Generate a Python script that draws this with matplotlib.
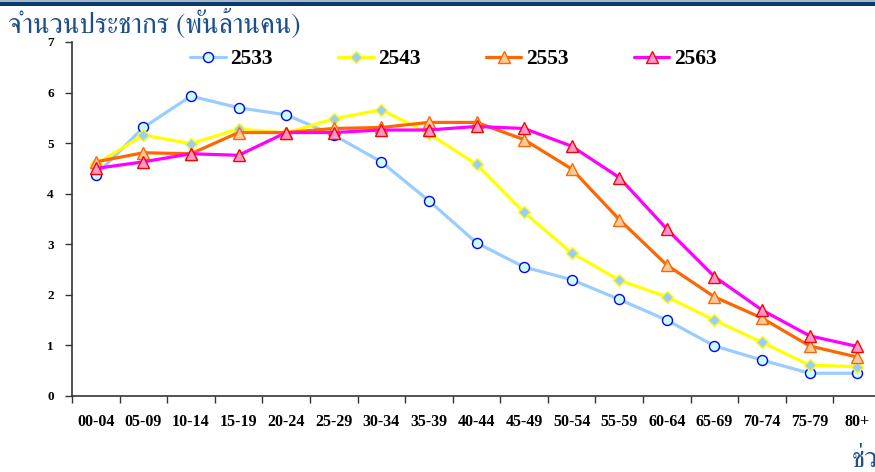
import matplotlib
matplotlib.use("Agg")
import matplotlib.pyplot as plt
import numpy as np
from matplotlib.patches import Rectangle

categories = ["00-04", "05-09", "10-14", "15-19", "20-24", "25-29", "30-34", "35-39",
              "40-44", "45-49", "50-54", "55-59", "60-64", "65-69", "70-74", "75-79", "80+"]
years = ["2533", "2543", "2553", "2563"]
pop_2533 = [4.37, 5.31, 5.93, 5.70, 5.56, 5.16, 4.63, 3.86, 3.03, 2.55, 2.30, 1.91, 1.50, 0.99, 0.71, 0.45, 0.45]
pop_2543 = [4.58, 5.16, 4.99, 5.28, 5.20, 5.48, 5.66, 5.19, 4.58, 3.63, 2.83, 2.29, 1.96, 1.50, 1.06, 0.61, 0.58]
pop_2553 = [4.63, 4.81, 4.79, 5.21, 5.21, 5.29, 5.31, 5.41, 5.41, 5.07, 4.49, 3.49, 2.59, 1.96, 1.54, 0.99, 0.77]
pop_2563 = [4.50, 4.63, 4.79, 4.76, 5.21, 5.21, 5.26, 5.26, 5.33, 5.29, 4.94, 4.32, 3.30, 2.36, 1.70, 1.19, 0.98]
y_ticks = [0, 1, 2, 3, 4, 5, 6, 7]
title_text = "จำนวนประชากร (พันล้านคน)"
xlabel_text = "ช่วงอายุ"

styles = [
    dict(color="#99CCFF", marker="o", mfc="#CCFFFF", mec="#0000FF", ms=7.2),
    dict(color="#FFFF00", marker="D", mfc="#99CCFF", mec="#FFFF00", ms=6.0),
    dict(color="#FF6600", marker="^", mfc="#FFCC99", mec="#FF6600", ms=8.5),
    dict(color="#FF00FF", marker="^", mfc="#FF99CC", mec="#FF0000", ms=8.5),
]
series = [pop_2533, pop_2543, pop_2553, pop_2563]

fig = plt.figure(figsize=(8.75, 4.72), dpi=100)
W, H = 875.0, 472.0

# top banner
fig.patches.append(Rectangle((0, 1 - 1.5 / H), 1, 1.5 / H, transform=fig.transFigure,
                             facecolor="#A8B8CC", edgecolor="none"))
fig.patches.append(Rectangle((0, 1 - 5.5 / H), 1, 4.0 / H, transform=fig.transFigure,
                             facecolor="#0B3A6F", edgecolor="none"))

left, right, top, bottom = 72, 881, 42, 396
ax = fig.add_axes([left / W, 1 - bottom / H, (right - left) / W, (bottom - top) / H])

x = np.arange(len(categories))
handles = []
for vals, st, lab in zip(series, styles, years):
    h, = ax.plot(x, vals, color=st["color"], lw=2.3, marker=st["marker"], ms=st["ms"],
                 mfc=st["mfc"], mec=st["mec"], mew=1.0, label=lab,
                 solid_joinstyle="round", solid_capstyle="round", clip_on=False)
    handles.append(h)

ax.set_xlim(-0.5, len(categories) - 0.5)
ax.set_ylim(0, 7)
ax.set_yticks(y_ticks)
ax.set_yticklabels([str(v) for v in y_ticks], fontfamily="Liberation Serif",
                   fontweight="bold", fontsize=9.5)
ax.set_xticks(np.arange(-0.5, len(categories), 1.0))
ax.set_xticklabels([])
ax.set_xticks(x, minor=True)
ax.set_xticklabels(categories, minor=True, fontfamily="Liberation Serif",
                   fontweight="bold", fontsize=11.5)
ax.tick_params(axis="x", which="major", direction="out", length=5, width=1, color="#333333")
ax.tick_params(axis="x", which="minor", length=0, pad=13)
ax.tick_params(axis="y", direction="out", length=5, width=1, color="#333333", pad=8)
for s in ["top", "right"]:
    ax.spines[s].set_visible(False)
for s in ["left", "bottom"]:
    ax.spines[s].set_color("#333333")
    ax.spines[s].set_linewidth(1.2)

leg = fig.legend(handles=handles, loc="center left", bbox_to_anchor=(190 / W, 1 - 59 / H),
                 ncol=4, frameon=False, handlelength=1.65, handletextpad=0.2,
                 columnspacing=3.05, borderaxespad=0, borderpad=0,
                 prop=dict(family="Liberation Serif", weight="bold", size=15.5))

fig.text(8 / W, 1 - 24 / H, title_text, fontfamily=["FreeSerif", "DejaVu Sans"],
         fontsize=20, color="#1F4E8C", va="center", ha="left")
fig.text(852 / W, 1 - 459 / H, xlabel_text, fontfamily=["FreeSerif", "DejaVu Sans"],
         fontsize=20, color="#1F4E8C", va="center", ha="left")

fig.savefig("out.png", dpi=100)
